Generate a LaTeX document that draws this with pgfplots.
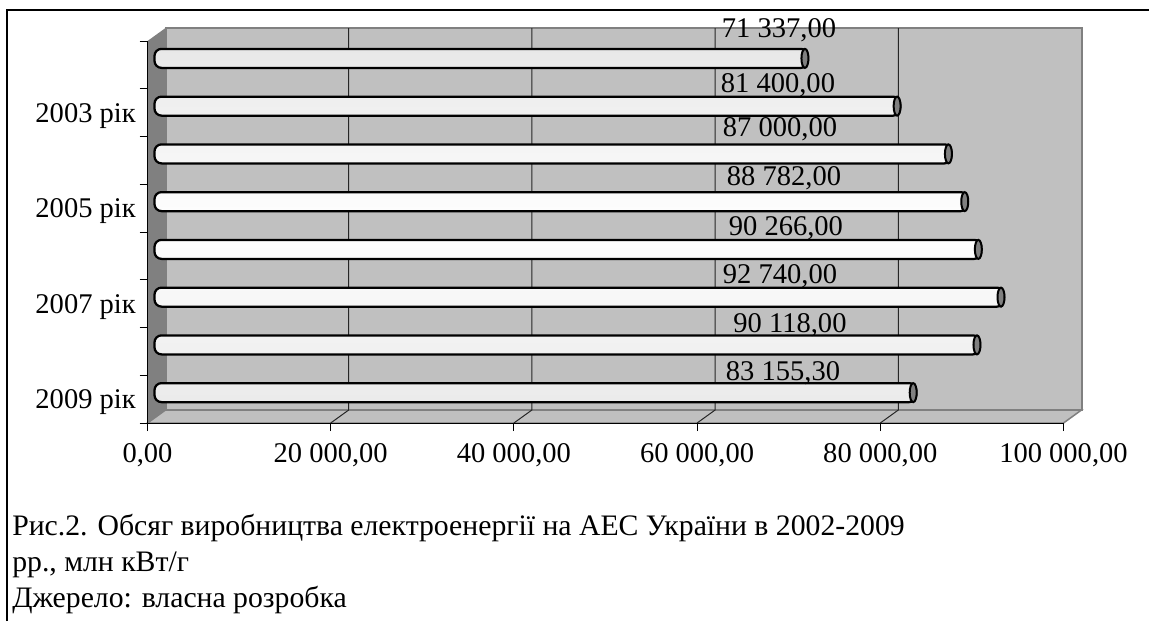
\documentclass[border=0pt]{standalone}
\usepackage{fontspec}
\setmainfont{Liberation Serif}
\usepackage{pgfplots}
\usepackage{pgfplotstable}
\pgfplotsset{compat=1.18}
\newlength\px
\setlength\px{0.75pt}
\definecolor{panel}{HTML}{C0C0C0}
\definecolor{wall}{HTML}{808080}
\definecolor{edge}{HTML}{808080}
\pgfdeclareplotmark{capR}{%
  \pgfpathellipse{\pgfpoint{-3\px}{0pt}}{\pgfpoint{3.5\px}{0pt}}{\pgfpoint{0pt}{9.5\px}}%
  \pgfusepathqfillstroke}

\pgfplotstableread{
y val lx ly
8 71337 68940 8.563
7 81400 68830 7.417
6 87000 69050 6.496
5 88782 69490 5.484
4 90266 69700 4.437
3 92740 69050 3.426
2 90118 70140 2.391
1 83155.3 69380 1.400
}\datatable

\begin{document}
\begin{tikzpicture}
\useasboundingbox (0,0) rectangle (1149\px,-621\px);
\draw[line width=2\px] (7\px,-621\px) -- (7\px,-10\px) -- (1149\px,-10\px);
\begin{axis}[
 at={(147.5\px,-423\px)}, anchor=south west,
 scale only axis, width=916\px, height=382\px,
 xmin=0, xmax=100000, ymin=0.5, ymax=8.5,
 clip=false, axis on top,
 axis x line*=bottom, axis y line*=left,
 axis line style={black, line width=1\px},
 tick align=outside,
 major tick length=8\px, minor tick length=8\px,
 tick style={black, line width=1\px},
 xtick={0,20000,...,100000},
 ytick={0.5,1.5,...,8.5}, yticklabels={},
 extra y ticks={1,3,5,7},
 extra y tick labels={2009 рік,2007 рік,2005 рік,2003 рік},
 extra y tick style={major tick length=0pt},
 scaled x ticks=false,
 tick label style={font=\fontsize{21.4}{25}\selectfont, inner sep=0pt, text depth=0pt},
 x tick label style={anchor=north, yshift=-12\px, /pgf/number format/fixed, /pgf/number format/fixed zerofill, /pgf/number format/precision=2, /pgf/number format/use comma, /pgf/number format/1000 sep={\ }, /pgf/number format/assume math mode=true},
 y tick label style={anchor=east, xshift=-11.5\px},
]
% back wall
\filldraw[fill=panel, draw=edge, line width=2\px] ([shift={(18\px,13\px)}]axis cs:0,0.5) rectangle ([shift={(18\px,13\px)}]axis cs:100000,8.5);
% floor
\filldraw[fill=panel, draw=edge, line width=1.5\px] (axis cs:0,0.5) -- (axis cs:100000,0.5) -- ([shift={(18\px,13\px)}]axis cs:100000,0.5) -- ([shift={(18\px,13\px)}]axis cs:0,0.5) -- cycle;
% side wall
\fill[wall] (axis cs:0,0.5) -- ([shift={(18\px,13\px)}]axis cs:0,0.5) -- ([shift={(18\px,13\px)}]axis cs:0,8.5) -- (axis cs:0,8.5) -- cycle;
% gridlines
\pgfplotsinvokeforeach{20000,40000,60000,80000}{
  \draw[black!85, line width=1\px] (axis cs:#1,0.5) -- ([shift={(18\px,13\px)}]axis cs:#1,0.5) -- ([shift={(18\px,13\px)}]axis cs:#1,8.5);
}
% bars
\addplot[xbar, bar width=19\px, draw=black, line width=2.25\px,
  top color=black!9, bottom color=black!8, middle color=white,
  rounded corners=7\px, xshift=7\px, yshift=6.5\px]
  table[x=val, y=y]{\datatable};
\addplot[only marks, mark=capR, mark options={fill=wall, draw=black, line width=2\px},
  xshift=7\px, yshift=6.5\px]
  table[x=val, y=y]{\datatable};
% labels
\addplot[draw=none, mark=none, point meta=explicit,
  nodes near coords={\pgfmathprintnumber[fixed, fixed zerofill, precision=2, use comma, 1000 sep={\ }, assume math mode=true]{\pgfplotspointmeta}},
  every node near coord/.append style={anchor=base, inner sep=0pt, text depth=0pt, font=\fontsize{21.4}{25}\selectfont, black}]
  table[x=lx, y=ly, meta=val]{\datatable};
\end{axis}
\node[anchor=base west, inner sep=0pt, font=\fontsize{22.3}{27}\selectfont] at (12\px,-535\px) {Рис.2. Обсяг виробництва електроенергії на АЕС України в 2002-2009};
\node[anchor=base west, inner sep=0pt, font=\fontsize{22.3}{27}\selectfont] at (12\px,-571\px) {рр., млн кВт/г};
\node[anchor=base west, inner sep=0pt, font=\fontsize{22.3}{27}\selectfont] at (12\px,-607\px) {Джерело: власна розробка};
\end{tikzpicture}
\end{document}
